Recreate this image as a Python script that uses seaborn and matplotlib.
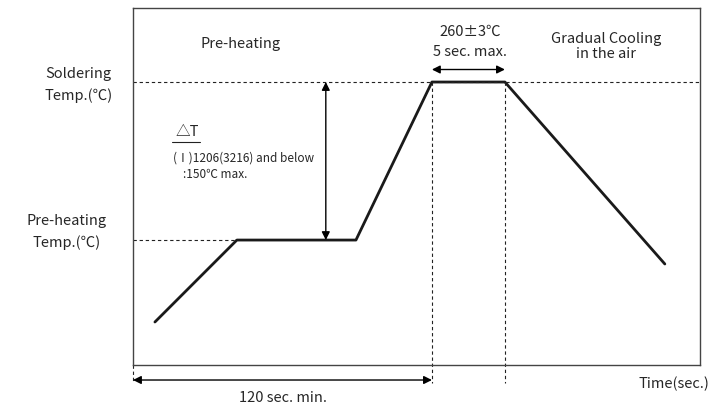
import matplotlib
matplotlib.use('Agg')
import matplotlib.pyplot as plt
import seaborn as sns
import pandas as pd

# 回流焊温度曲线 (示意图)
time = [8.8, 41.7, 89.5, 120.0, 149.3, 213.5]
temp = [39.5, 114.8, 114.8, 260.0, 260.0, 92.8]
solder_temp = 260.0
preheat_temp = 114.8
t_peak_start = 120.0
t_peak_end = 149.3

sns.set_style('white')
plt.rcParams['font.family'] = ['Noto Sans CJK KR', 'DejaVu Sans']

df = pd.DataFrame({'time': time, 'temp': temp})

fig = plt.figure(figsize=(7.12, 4.09), dpi=100)
ax = fig.add_axes([0.1868, 0.1076, 0.7963, 0.8728])

# 曲线
sns.lineplot(data=df, x='time', y='temp', ax=ax, color='#1a1a1a', linewidth=2.0,
             sort=False, estimator=None)

ax.set_xlim(0, 227.6)
ax.set_ylim(0, 328)
ax.set_xticks([])
ax.set_yticks([])
ax.set_xlabel('')
ax.set_ylabel('')
for s in ax.spines.values():
    s.set_color('#444444')
    s.set_linewidth(1.0)

dash = dict(color='#222222', linewidth=0.8, linestyle=(0, (3, 2.5)))
# 水平虚线
ax.plot([0, 227.6], [solder_temp, solder_temp], **dash)
ax.plot([0, time[1]], [preheat_temp, preheat_temp], **dash)
# 竖直虚线
ax.plot([t_peak_start, t_peak_start], [solder_temp, -16.5], clip_on=False, **dash)
ax.plot([t_peak_end, t_peak_end], [solder_temp, -16.5], clip_on=False, **dash)
ax.plot([0, 0], [0, -16.5], clip_on=False, **dash)

arrow = dict(arrowstyle='<|-|>', color='black', lw=1.0, mutation_scale=12,
             shrinkA=0, shrinkB=0)
ax.annotate('', xy=(0, -13.8), xytext=(t_peak_start, -13.8),
            arrowprops=arrow, annotation_clip=False)
ax.annotate('', xy=(t_peak_start, 271.5), xytext=(t_peak_end, 271.5),
            arrowprops=arrow)
ax.annotate('', xy=(77.4, solder_temp), xytext=(77.4, preheat_temp),
            arrowprops=arrow)

fs = 10.5
ax.text(-22.0, 257.0, 'Soldering\nTemp.(℃)', ha='center', va='center', fontsize=fs,
        linespacing=1.6, clip_on=False)
ax.text(-26.5, 122.2, 'Pre-heating\nTemp.(℃)', ha='center', va='center', fontsize=fs,
        linespacing=1.6, clip_on=False)
ax.text(43.3, 294.9, 'Pre-heating', ha='center', va='center', fontsize=fs)
ax.text(135.2, 306.0, '260±3℃', ha='center', va='center', fontsize=fs)
ax.text(135.2, 288.0, '5 sec. max.', ha='center', va='center', fontsize=fs)
ax.text(190.0, 293.0, 'Gradual Cooling\nin the air', ha='center', va='center',
        fontsize=fs, linespacing=1.1)
ax.text(21.7, 214.1, '△T', ha='center', va='center', fontsize=fs)
ax.plot([15.7, 26.9], [204.9, 204.9], color='#222222', linewidth=0.8)
ax.text(16.1, 190.2, '(Ⅰ)1206(3216) and below', ha='left', va='center', fontsize=8.5)
ax.text(20.1, 174.6, ':150℃ max.', ha='left', va='center', fontsize=8.5)
ax.text(231.5, -17.5, 'Time(sec.)', ha='right', va='center', fontsize=fs, clip_on=False)
ax.text(60.2, -30.3, '120 sec. min.', ha='center', va='center', fontsize=fs, clip_on=False)

plt.savefig('out.png', dpi=100)
